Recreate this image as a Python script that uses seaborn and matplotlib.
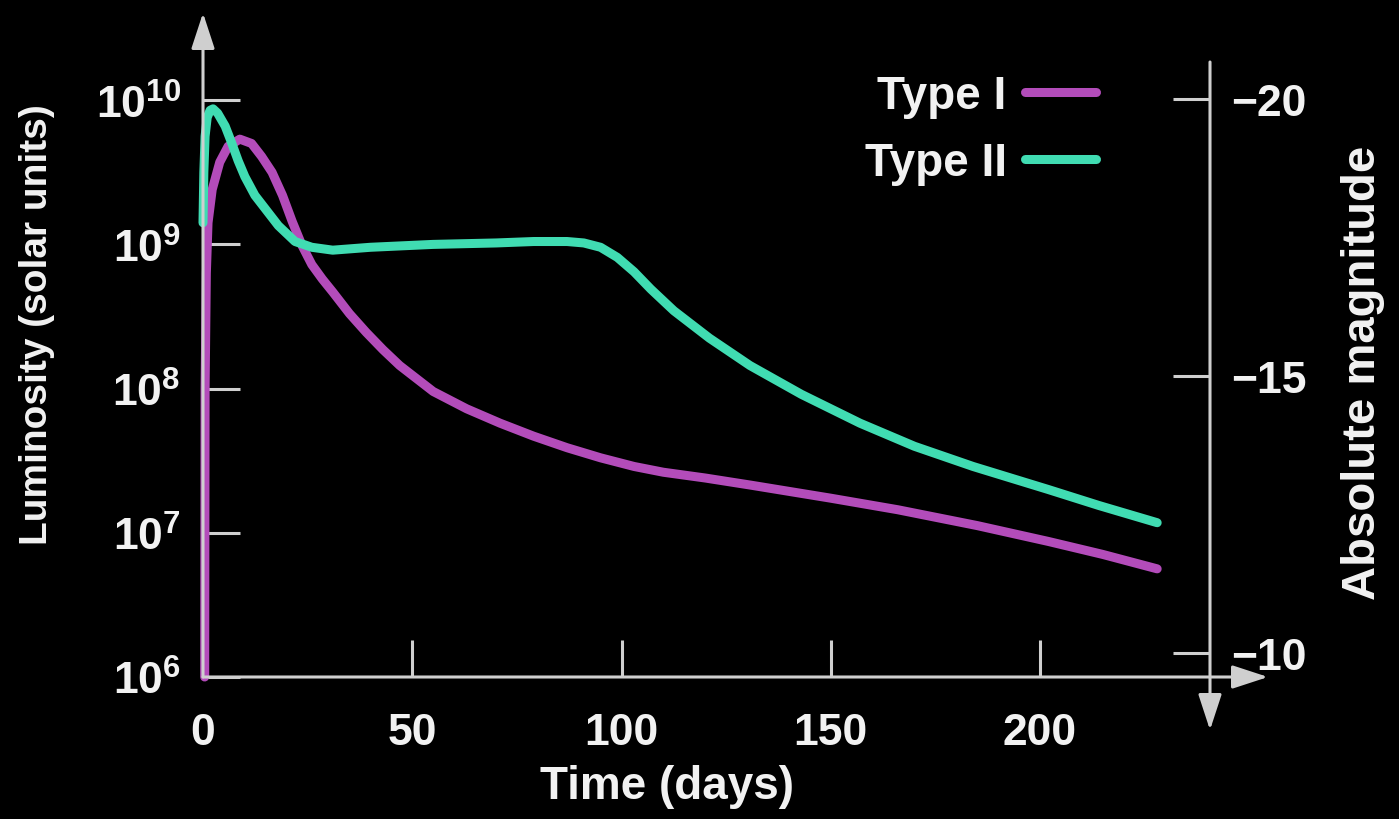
import numpy as np
import pandas as pd
import matplotlib
matplotlib.use("Agg")
import matplotlib.pyplot as plt
from matplotlib.ticker import NullLocator
import seaborn as sns

# ---------------- data ----------------
series_names = ["Type I", "Type II"]
series_colors = ["#b34cba", "#40dcb2"]

type1_days = [0.4, 0.5, 0.8, 1.2, 2.2, 4.0, 6.0, 8.8, 11.6, 14.0, 16.5, 19.0,
              21.3, 23.7, 26.0, 28.5, 31.0, 35.0, 39.0, 43.0, 47.0, 55.0, 63.0,
              71.0, 79.0, 87.0, 95.0, 103.0, 110.0, 120.0, 131.0, 150.0, 166.0,
              185.0, 202.0, 215.0, 228.0]
type1_loglum = [6.0, 8.0, 8.8, 9.15, 9.38, 9.57, 9.68, 9.73, 9.70, 9.61, 9.50,
                9.34, 9.16, 8.99, 8.86, 8.76, 8.67, 8.52, 8.39, 8.27, 8.16, 7.98,
                7.86, 7.76, 7.67, 7.59, 7.52, 7.46, 7.42, 7.38, 7.33, 7.24, 7.16,
                7.05, 6.94, 6.85, 6.75]

type2_days = [0.0, 0.2, 0.5, 1.0, 1.7, 2.4, 3.5, 5.3, 6.9, 8.4, 10.0, 12.4,
              14.8, 18.0, 22.0, 26.0, 31.0, 40.0, 55.0, 70.0, 79.0, 87.0, 91.0,
              95.0, 99.0, 103.0, 107.0, 112.5, 121.0, 130.7, 143.0, 157.0,
              170.0, 184.0, 202.0, 214.0, 228.0]
type2_loglum = [9.15, 9.5, 9.75, 9.88, 9.93, 9.94, 9.91, 9.82, 9.70, 9.58, 9.47,
                9.34, 9.25, 9.13, 9.02, 8.98, 8.96, 8.98, 9.00, 9.01, 9.02, 9.02,
                9.01, 8.98, 8.91, 8.81, 8.69, 8.54, 8.35, 8.16, 7.96, 7.76, 7.60,
                7.46, 7.30, 7.19, 7.07]

x_ticks = [0, 50, 100, 150, 200]
lum_ticks = [1e6, 1e7, 1e8, 1e9, 1e10]
lum_tick_labels = [r"$10^{6}$", r"$10^{7}$", r"$10^{8}$", r"$10^{9}$", r"$10^{10}$"]
mag_ticks = [-20, -15, -10]
mag_tick_labels = ["\u221220", "\u221215", "\u221210"]

# ---------------- style ----------------
axis_color = "#cfcfcf"
text_color = "#f2f2f2"
sns.set_style("ticks", {"axes.facecolor": "black", "figure.facecolor": "black",
                        "axes.grid": False, "axes.edgecolor": axis_color,
                        "xtick.color": axis_color, "ytick.color": axis_color,
                        "text.color": text_color, "axes.labelcolor": text_color})
plt.rcParams["font.family"] = ["Liberation Sans", "DejaVu Sans"]
plt.rcParams["font.weight"] = "bold"
plt.rcParams["axes.labelweight"] = "bold"
plt.rcParams["mathtext.fontset"] = "custom"
plt.rcParams["mathtext.rm"] = "Liberation Sans:bold"
plt.rcParams["mathtext.it"] = "Liberation Sans:bold"
plt.rcParams["mathtext.bf"] = "Liberation Sans:bold"
plt.rcParams["mathtext.default"] = "rm"

W, H = 1399, 820
fig = plt.figure(figsize=(W / 100, H / 100), dpi=100, facecolor="black")

# pixel geometry of the reference
x0_px, px_per_day = 203.0, 4.185
xmin, xmax = -4.0, 256.0
top_px, bot_px = 13.0, 735.0
y6_px, px_per_dec = 678.0, 144.2
ax_left_px = x0_px + xmin * px_per_day
ax_w_px = (xmax - xmin) * px_per_day
ax_h_px = bot_px - top_px
ax = fig.add_axes([ax_left_px / W, 1 - bot_px / H, ax_w_px / W, ax_h_px / H])
ax.set_facecolor("black")

ylog_top = 6 + (y6_px - top_px) / px_per_dec
ylog_bot = 6 - (bot_px - y6_px) / px_per_dec


def fx(px):
    return (px - ax_left_px) / ax_w_px


def fy(py):
    return (bot_px - py) / ax_h_px


def day_of(px):
    return (px - x0_px) / px_per_day


def lum_of(py):
    return 10 ** (6 + (y6_px - py) / px_per_dec)


# ---------------- data frame & lines ----------------
df = pd.concat([
    pd.DataFrame({"Time": type1_days, "Luminosity": np.power(10.0, type1_loglum),
                  "Type": series_names[0]}),
    pd.DataFrame({"Time": type2_days, "Luminosity": np.power(10.0, type2_loglum),
                  "Type": series_names[1]}),
], ignore_index=True)

lw = 6.5
sns.lineplot(data=df, x="Time", y="Luminosity", hue="Type",
             palette=dict(zip(series_names, series_colors)), estimator=None,
             sort=False, linewidth=lw, ax=ax, solid_capstyle="round",
             solid_joinstyle="round")

ax.set_yscale("log")
ax.set_xlim(xmin, xmax)
ax.set_ylim(10 ** ylog_bot, 10 ** ylog_top)
ax.yaxis.set_minor_locator(NullLocator())
ax.xaxis.set_minor_locator(NullLocator())
ax.set_xticks(x_ticks)
ax.set_xticklabels([str(t) for t in x_ticks])
ax.set_yticks(lum_ticks)
ax.set_yticklabels(lum_tick_labels)

for s in ax.spines.values():
    s.set_visible(False)
ax.spines["left"].set_position(("data", 0))
ax.spines["bottom"].set_position(("data", 1e6))

tick_len = 26.5
tick_w = 2.2
tick_size = 32
ax.tick_params(axis="x", direction="in", length=tick_len, width=tick_w,
               color=axis_color, labelcolor=text_color, labelsize=tick_size, pad=25)
ax.tick_params(axis="y", direction="in", length=tick_len, width=tick_w,
               color=axis_color, labelcolor=text_color, labelsize=tick_size, pad=16)
for lab in ax.get_xticklabels() + ax.get_yticklabels():
    lab.set_fontweight("bold")

# axis lines with arrows
arrow_kw = dict(arrowstyle="-|>,head_length=1.1,head_width=0.36", color=axis_color,
                lw=tick_w, shrinkA=0, shrinkB=0, mutation_scale=20)
ax.annotate("", xy=(0, lum_of(14)), xytext=(0, 1e6), arrowprops=arrow_kw,
            annotation_clip=False)
ax.annotate("", xy=(day_of(1268), 1e6), xytext=(0, 1e6), arrowprops=arrow_kw,
            annotation_clip=False)
right_day = day_of(1210)
ax.annotate("", xy=(right_day, lum_of(731)), xytext=(right_day, lum_of(63)),
            arrowprops=arrow_kw, annotation_clip=False)

# right magnitude axis
tw = ax.twinx()
mag_px20, mag_px_per = 100.0, 55.4
mag_bot = -20 + (bot_px - mag_px20) / mag_px_per
mag_top = -20 + (top_px - mag_px20) / mag_px_per
tw.set_ylim(mag_bot, mag_top)
for s in tw.spines.values():
    s.set_visible(False)
tw.spines["right"].set_position(("data", right_day))
tw.set_yticks(mag_ticks)
tw.set_yticklabels(mag_tick_labels)
tw.yaxis.set_minor_locator(NullLocator())
tw.tick_params(axis="y", direction="in", length=tick_len, width=tick_w,
               color=axis_color, labelcolor=text_color, labelsize=tick_size, pad=15)
tw.grid(False)

# axis labels
ax.set_xlabel("Time (days)", fontsize=33, fontweight="bold", color=text_color)
ax.xaxis.set_label_coords(fx(667), fy(765))
ax.set_ylabel("Luminosity (solar units)", fontsize=28, fontweight="bold",
              color=text_color)
ax.yaxis.label.set_va("center")
ax.yaxis.label.set_ha("center")
ax.yaxis.set_label_coords(fx(37), fy(325))
tw.set_ylabel("Absolute magnitude", fontsize=34, fontweight="bold",
              color=text_color, rotation=90)
tw.yaxis.label.set_va("center")
tw.yaxis.label.set_ha("center")
tw.yaxis.set_label_coords(fx(1363), fy(373))

# legend: text first, line after
handles, labels = ax.get_legend_handles_labels()
leg = ax.legend(handles, labels, loc="upper right",
                bbox_to_anchor=(1096 / W, 1 - 75 / H), bbox_transform=fig.transFigure,
                markerfirst=False, frameon=False, prop={"size": 33, "weight": "bold"},
                handlelength=1.55, handletextpad=0.4, labelspacing=0.5,
                borderpad=0, borderaxespad=0, labelcolor=text_color)
for line in leg.get_lines():
    line.set_linewidth(lw)
    line.set_solid_capstyle("round")

fig.savefig("out.png", dpi=100, facecolor="black")
